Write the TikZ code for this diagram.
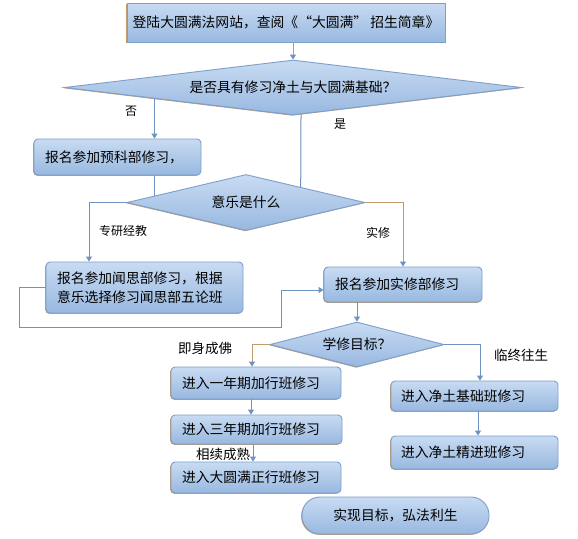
\documentclass[tikz,border=0pt]{standalone}
\usepackage{fontspec}
\newfontfamily\cjk{Noto Sans CJK SC}
\usetikzlibrary{arrows.meta,shapes.geometric,shadows,calc}
\definecolor{lblue}{RGB}{110,147,194}
\definecolor{lbrown}{RGB}{193,155,108}
\definecolor{ftop}{RGB}{200,219,242}
\definecolor{fbot}{RGB}{152,184,224}
\definecolor{bord}{RGB}{125,159,204}
\begin{document}
\begin{tikzpicture}[x=1pt,y=-1pt,
 base/.style={draw=bord, line width=0.9pt, top color=ftop, bottom color=fbot,
   general shadow={fill=lbrown, shadow xshift=-0.8pt, shadow yshift=-0.8pt},
   font=\cjk\fontsize{13.8}{19}\selectfont, text=black},
 sqbox/.style={base, rectangle, inner sep=0pt},
 rbox/.style={base, rectangle, rounded corners=4pt, inner xsep=11pt, inner ysep=0pt, align=left},
 dia/.style={base, diamond, inner sep=0pt},
 lab/.style={font=\cjk\fontsize{13.5}{16}\selectfont},
 slab/.style={font=\cjk\fontsize{12}{14}\selectfont},
 conn/.style={draw=lblue, line width=1pt},
 connb/.style={draw=lbrown, line width=1pt},
 arr/.style={-{Triangle[length=5pt,width=6pt,color=lblue]}},
]
\fill[white] (0,0) rectangle (578,538);
\useasboundingbox (0,0) rectangle (578,538);

% nodes
\node[sqbox, minimum width=318pt, minimum height=39pt] (top) at (286,22.5) {登陆大圆满法网站，查阅《“大圆满”\ 招生简章》};
\node[dia, aspect=8.3, minimum width=457pt, minimum height=55pt] (d1) at (293,87.5) {是否具有修习净土与大圆满基础？};
\node[rbox, text width=145pt, minimum height=36pt] (yuke) at (117.5,157) {报名参加预科部修习，};
\node[dia, aspect=4.25, minimum width=238pt, minimum height=56pt] (d2) at (246,202.5) {意乐是什么};
\node[rbox, text width=175pt, minimum height=51pt] (wensi) at (144.5,287.5) {报名参加闻思部修习，根据\\意乐选择修习闻思部五论班};
\node[rbox, text width=136pt, minimum height=35pt] (shixiu) at (403,284.5) {报名参加实修部修习};
\node[dia, aspect=3.87, minimum width=174pt, minimum height=45pt] (d3) at (357,344.5) {学修目标？};
\node[rbox, text width=148pt, minimum height=32pt] (y1) at (256,383) {进入一年期加行班修习};
\node[rbox, text width=149pt, minimum height=29pt] (y3) at (256.5,429.5) {进入三年期加行班修习};
\node[rbox, text width=148pt, minimum height=31pt] (dyz) at (256,477.5) {进入大圆满正行班修习};
\node[rbox, inner xsep=10pt, text width=147pt, minimum height=30pt] (jc) at (474.5,396) {进入净土基础班修习};
\node[rbox, inner xsep=10pt, text width=147pt, minimum height=33pt] (jj) at (474.5,452.5) {进入净土精进班修习};
\node[base, rectangle, rounded corners=18pt, minimum width=187pt, minimum height=37pt, inner sep=0pt] (goal) at (395.5,515.5) {实现目标，弘法利生};

% labels
\node[slab] (no) at (131,111) {否};
\node[slab] (yes) at (340,124) {是};
\node[slab] (zy) at (123,231) {专研经教};
\node[slab] (sx) at (378,233) {实修};
\node[lab] (jscf) at (205,348) {即身成佛};
\node[lab] (lzws) at (521,355) {临终往生};
\node[lab] (xxcs) at (223,454) {相续成熟};

% connectors
\draw[connb, arr] (d1.north |- top.south) -- (d1.north);
\coordinate (p1) at ($(d1.west)!0.395!(d1.south)$);
\draw[conn, arr] (p1) -- (p1 |- yuke.north);
\coordinate (p2) at ($(d1.south)!0.035!(d1.east)$);
\coordinate (p3) at ($(d2.north)!0.458!(d2.east)$);
\draw[conn] (p2) -- (p3);
\coordinate (p4) at ($(d2.west)!0.233!(d2.north)$);
\draw[conn] (p4 |- yuke.south) -- (p4);
\draw[conn, arr] (d2.west) -| ($(wensi.north)+(-55.5,0)$);
\draw[connb, arr] (d2.east) -| (shixiu.north);
\coordinate (sxin) at ($(shixiu.west)+(0,5.5)$);
\draw[conn, arr] (wensi.west) -- (19,287.5) -- (19,327) -- (281,327) -- (281,290) -- (sxin);
\draw[conn, arr] (d3.north |- shixiu.south) -- (d3.north);
\draw[connb, arr] (d3.west) -| ($(y1.north)+(-4,0)$);
\draw[conn, arr] (d3.east) -| ($(jc.north)+(5.5,0)$);
\draw[conn, arr] ($(y1.south)+(-5,0)$) -- ($(y3.north)+(-5.5,0)$);
\draw[conn, arr] ($(y3.south)+(-3.5,0)$) -- ($(dyz.north)+(-3,0)$);
\draw[conn, arr] ($(jc.south)+(3.5,0)$) -- ($(jj.north)+(3.5,0)$);
\end{tikzpicture}
\end{document}
